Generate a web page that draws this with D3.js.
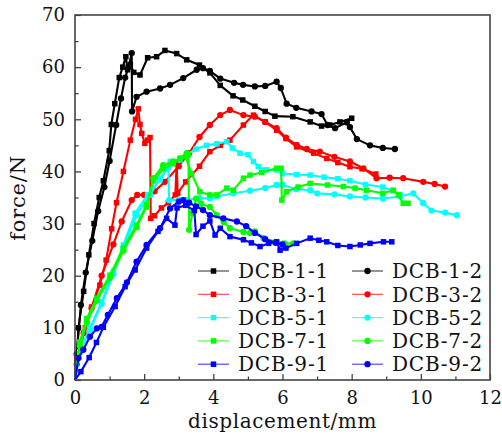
<!DOCTYPE html>
<html>
<head>
<meta charset="utf-8">
<script src="https://d3js.org/d3.v7.min.js"></script>
<style>
body { margin: 0; background: #fff; }
text { font-family: "DejaVu Serif", serif; fill: #111; }
</style>
</head>
<body>
<svg id="chart" width="502" height="436"></svg>
<script>
// displacement (mm), force (N)
const dcb11 = [[0,0],[0.05,4],[0.1,10],[0.25,17],[0.4,24],[0.55,30],[0.7,35],[0.82,38.2],[0.99,44],[1.05,49],[1.15,53],[1.28,58],[1.38,60],[1.47,62],[1.52,59.5],[1.6,60.5],[1.7,59],[1.88,58.5],[2.1,61.8],[2.36,62],[2.6,63.2],[2.94,62.6],[3.23,61.4],[3.6,60.4],[3.9,58.9],[4.2,56.5],[4.57,54.5],[4.85,53.7],[5.2,52.5],[5.5,51.5],[5.78,50.6],[6.3,50.5],[6.8,49.5],[7.13,48.7],[7.37,48.9],[7.66,49.5],[8.0,50.2]];
const dcb12 = [[0,0],[0.05,5],[0.17,14.4],[0.31,20.6],[0.5,26.7],[0.67,32.4],[0.85,37],[1.0,42],[1.19,48.9],[1.33,54],[1.45,58],[1.55,60],[1.64,62.7],[1.65,51.5],[1.78,54.3],[2.07,55.3],[2.46,55.9],[2.75,56.6],[3.13,57.9],[3.52,59.5],[3.7,59.8],[3.9,59.3],[4.2,57.8],[4.6,57],[4.86,56.6],[5.2,56.3],[5.5,56.4],[5.83,57.2],[5.95,56],[6.12,53],[6.4,52.2],[6.84,51.5],[7.13,51],[7.3,48.9],[7.52,48.3],[7.86,49.4],[7.95,48.5],[8.15,46.2],[8.53,45],[8.9,44.5],[9.25,44.3]];
const dcb31 = [[0,0],[0.05,4],[0.3,10],[0.48,14],[0.72,18.2],[0.9,23],[1.06,29],[1.2,34],[1.4,40],[1.6,46],[1.75,50],[1.83,52],[1.88,49],[1.93,47.3],[2.02,45.4],[2.1,46],[2.17,46.5],[2.19,31],[2.3,31.5],[2.5,33],[2.7,34],[2.9,35.5],[2.94,41.5],[2.97,35.8],[3.2,38],[3.6,41],[3.9,43.8],[4.2,45],[4.48,46],[4.87,48.9],[5.16,50.8],[5.5,49.5],[5.83,47.9],[6.1,46.3],[6.41,44.7],[6.9,43.5],[7.28,42.5],[7.6,41.7],[7.95,40.9],[8.3,40.5],[8.7,39.5]];
const dcb32 = [[0,0],[0.05,3],[0.25,9],[0.48,13.8],[0.77,20],[1.11,26],[1.35,30.4],[1.64,34.5],[1.8,35.5],[2.0,35.5],[2.3,36.2],[2.6,38],[3.0,41],[3.3,43.5],[3.6,46.6],[3.9,48.9],[4.2,50.8],[4.48,51.8],[4.87,50.8],[5.2,50.5],[5.5,49.5],[5.83,48.3],[6.1,46.5],[6.41,45.1],[6.7,44.3],[7.08,43.8],[7.5,42.8],[7.95,41.9],[8.34,40.6],[8.72,38.7],[9.1,38.8],[9.49,38.7],[10.07,38],[10.4,37.6],[10.7,37.1]];
const dcb51 = [[0,0],[0.14,5.4],[0.43,9.9],[0.77,15],[1.11,20.8],[1.4,25.9],[1.74,32],[2.1,35.5],[2.46,38.4],[2.75,41.9],[3.04,42.2],[3.23,43.2],[3.5,44.3],[3.8,45],[4.1,45.3],[4.39,45.7],[4.55,44.5],[4.77,43.5],[5.0,43.2],[5.16,41.9],[5.3,40.9],[5.54,40.3],[5.83,40.3],[6.0,39.6],[6.4,39.4],[6.8,39.3],[7.2,38.9],[7.6,38.6],[7.95,38.2],[8.4,37.5],[8.9,37],[9.2,36.3],[9.4,35.5]];
const dcb52 = [[0,0],[0.14,5.4],[0.43,9.6],[0.77,14.6],[1.11,20.3],[1.4,25.4],[1.78,31.6],[2.17,35.5],[2.45,38.5],[2.7,40.7],[2.72,34.5],[3.0,34.6],[3.23,34.5],[3.6,34.9],[3.9,34.8],[4.1,35.2],[4.58,35.8],[5.06,36.3],[5.5,36.8],[5.83,37.4],[6.0,37.4],[6.4,36.6],[6.8,36.4],[7.0,35.8],[7.5,35.6],[7.95,35.2],[8.4,35],[8.9,34.8],[9.4,35.2],[9.78,35.8],[10.07,33.9],[10.31,32.5],[10.7,32.1],[11.04,31.6]];
const dcb71 = [[0,0],[0.14,7.3],[0.34,11.8],[0.63,15.7],[1.01,20.1],[1.4,25.3],[1.78,29.7],[2.07,33.6],[2.27,38.2],[2.55,40.5],[2.84,41.5],[3.04,42.5],[3.2,42.8],[3.37,39.6],[3.61,36.1],[3.9,35.5],[4.1,35.5],[4.39,36.8],[4.58,36.4],[4.87,38.7],[5.06,39.3],[5.4,39.8],[5.83,40.6],[5.96,40.6],[5.98,34.5],[6.12,36.1],[6.45,37],[6.8,37.7],[7.3,37.4],[7.76,37.1],[8.1,36.8],[8.43,36.4],[8.9,35.8],[9.2,36.4],[9.35,35.5],[9.49,33.9],[9.63,33.9]];
const dcb72 = [[0,0],[0.14,6.5],[0.34,11],[0.63,15.2],[1.01,19.6],[1.4,24.8],[1.78,29.3],[2.07,33.2],[2.27,38.7],[2.55,41.2],[2.84,41.9],[3.04,42.5],[3.23,43.5],[3.28,43.2],[3.3,28.8],[3.4,32],[3.5,34.8],[3.65,33.8],[3.9,33.2],[4.1,31.6],[4.3,30.3],[4.48,29.1],[4.87,28.4],[5.06,28.2],[5.2,28.5],[5.45,27.2],[5.83,26.5],[6.05,26.2],[6.31,26.2]];
const dcb91 = [[0,0],[0.17,1.6],[0.41,4.3],[0.62,7.2],[0.82,10.1],[1.16,14.1],[1.45,17.9],[1.74,21.1],[2.07,25.3],[2.4,28.5],[2.65,31],[2.89,29.7],[2.95,33],[3.2,33.5],[3.45,32.5],[3.5,27.9],[3.7,29.5],[3.9,30.5],[4.05,27.8],[4.2,29.1],[4.48,27.5],[4.87,26.9],[5.1,26.3],[5.35,25.6],[5.6,26.2],[5.83,26.5],[5.93,24.9],[6.1,25.3],[6.41,26.2],[6.8,27.2],[7.05,26.8],[7.28,26.5],[7.6,25.8],[7.95,25.6],[8.25,25.9],[8.53,26.2],[8.92,26.5],[9.16,26.5]];
const dcb92 = [[0,0],[0.1,4.2],[0.24,5.8],[0.43,8.3],[0.63,9.9],[0.77,10.2],[0.95,12.5],[1.21,15.7],[1.5,18.7],[1.78,22.7],[2.07,25.9],[2.46,29.1],[2.75,32.9],[3.0,34.2],[3.13,34.5],[3.3,34],[3.5,33.3],[3.7,32.6],[3.9,31.6],[4.29,31],[4.68,30.4],[4.95,29.5],[5.2,28.2],[5.5,27],[5.8,26.3],[6.0,26]];

const names = ['DCB-1-1','DCB-1-2','DCB-3-1','DCB-3-2','DCB-5-1','DCB-5-2','DCB-7-1','DCB-7-2','DCB-9-1','DCB-9-2'];
const seriesData = [dcb11, dcb12, dcb31, dcb32, dcb51, dcb52, dcb71, dcb72, dcb91, dcb92];
const colors = ['#000000','#000000','#ff0000','#ff0000','#00ffff','#00ffff','#00ff00','#00ff00','#0000ff','#0000ff'];
const shapes = ['square','circle','square','circle','square','circle','square','circle','square','circle'];
const xTicks = [0,2,4,6,8,10,12];
const yTicks = [0,10,20,30,40,50,60,70];

const svg = d3.select('#chart');
const pLeft = 75, pRight = 490, pTop = 15, pBottom = 380;

const x = d3.scaleLinear().domain([0,12]).range([pLeft,pRight]);
const y = d3.scaleLinear().domain([0,70]).range([pBottom,pTop]);

// axes, ticks pointing inwards
svg.append('g')
    .attr('transform',`translate(0,${pBottom})`)
    .call(d3.axisBottom(x).tickValues(d3.range(1,12,2)).tickSize(-3.5).tickFormat(''))
    .call(g=>g.select('.domain').remove());
svg.append('g')
    .attr('transform',`translate(${pLeft},0)`)
    .call(d3.axisLeft(y).tickValues(d3.range(5,70,10)).tickSize(-3.5).tickFormat(''))
    .call(g=>g.select('.domain').remove());
svg.append('g')
    .attr('transform',`translate(0,${pBottom})`)
    .call(d3.axisBottom(x).tickValues(xTicks).tickSize(-6).tickPadding(11))
    .call(g=>g.select('.domain').remove());
svg.append('g')
    .attr('transform',`translate(${pLeft},0)`)
    .call(d3.axisLeft(y).tickValues(yTicks).tickSize(-6).tickPadding(10))
    .call(g=>g.select('.domain').remove());
svg.selectAll('.tick line').attr('stroke','#333').attr('stroke-width',1.2);
svg.selectAll('.tick text')
    .attr('font-family','"DejaVu Serif", serif')
    .attr('font-size',18)
    .attr('fill','#111');

// curves
const line = d3.line().x(d=>x(d[0])).y(d=>y(d[1]));
const marker = (sel, shape, color, sz) => {
    if (shape==='square') {
        sel.append('rect')
            .attr('x',-sz/2).attr('y',-sz/2)
            .attr('width',sz).attr('height',sz)
            .attr('fill',color);
    } else {
        sel.append('circle')
            .attr('r',sz/2+0.4)
            .attr('fill',color);
    }
};

seriesData.forEach((data,i)=>{
    const g = svg.append('g');
    g.append('path')
        .attr('d',line(data))
        .attr('fill','none')
        .attr('stroke',colors[i])
        .attr('stroke-width',2.1)
        .attr('stroke-linejoin','round');
    g.selectAll('g.pt')
        .data(data.slice(1))
        .enter()
        .append('g')
            .attr('transform',d=>`translate(${x(d[0])},${y(d[1])})`)
        .each(function(){
            marker(d3.select(this), shapes[i], colors[i], 5.5);
        });
});

// frame
svg.append('rect')
    .attr('x',pLeft).attr('y',pTop)
    .attr('width',pRight-pLeft).attr('height',pBottom-pTop)
    .attr('fill','none')
    .attr('stroke','#444')
    .attr('stroke-width',1.6);

// legend
const legend = svg.append('g');
names.forEach((name,i)=>{
    const col = i%2, row = Math.floor(i/2);
    const lx = col===0 ? 198 : 352;
    const ly = 271 + row*23.3;
    const item = legend.append('g').attr('transform',`translate(${lx},${ly})`);
    item.append('line')
        .attr('x1',0).attr('x2',31)
        .attr('stroke',colors[i])
        .attr('stroke-opacity',0.7)
        .attr('stroke-width',1.2);
    const m = item.append('g').attr('transform','translate(15.5,0)');
    marker(m, shapes[i], colors[i], 5.5);
    item.append('text')
        .attr('x',40)
        .attr('dy','0.36em')
        .attr('font-size',20)
        .attr('letter-spacing',0.8)
        .text(name);
});

// axis titles
svg.append('text')
    .attr('x',(pLeft+pRight)/2)
    .attr('y',428)
    .attr('text-anchor','middle')
    .attr('font-size',20)
    .attr('letter-spacing',0.6)
    .text('displacement/mm');
svg.append('text')
    .attr('transform','translate(25,198) rotate(-90)')
    .attr('text-anchor','middle')
    .attr('font-size',21)
    .attr('letter-spacing',0.8)
    .text('force/N');
</script>
</body>
</html>
